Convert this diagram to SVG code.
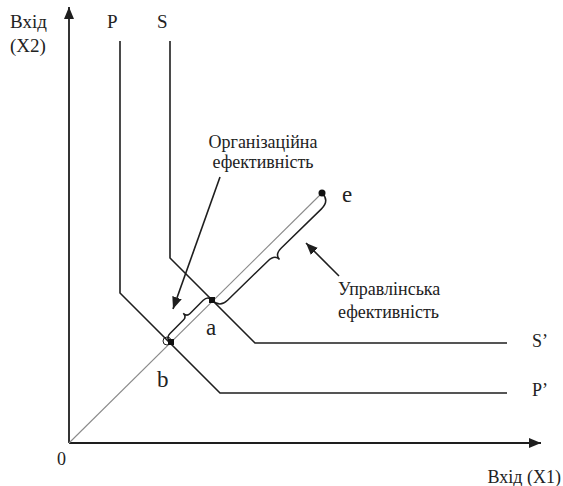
<svg xmlns="http://www.w3.org/2000/svg" width="563" height="486" viewBox="0 0 563 486">
<style>
text{font-family:"Liberation Serif","DejaVu Serif",serif;fill:#222}
.t{font-size:18px}
.big{font-size:23px}
.ln{fill:none;stroke:#1e1e1e;stroke-width:1.6}
.ray{fill:none;stroke:#8a8a8a;stroke-width:1.1}
.br{fill:none;stroke:#1e1e1e;stroke-width:1.5}
</style>
<defs>
<marker id="ah" viewBox="0 0 12 10" refX="12" refY="5" markerWidth="12" markerHeight="10" markerUnits="userSpaceOnUse" orient="auto">
<path d="M0,0 L12,5 L0,10 z" fill="#1e1e1e"/>
</marker>
</defs>
<rect width="563" height="486" fill="#fff"/>
<g font-family="Liberation Serif, DejaVu Serif, serif">
<g id="axes">
<line class="ln" x1="69" y1="443" x2="69" y2="7" marker-end="url(#ah)" style="stroke-width:1.8"/>
<line class="ln" x1="69" y1="443" x2="541" y2="443" marker-end="url(#ah)" style="stroke-width:1.8"/>
<text class="t" x="10" y="28" style="font-size:19px">Вхід</text>
<text class="t" x="10" y="52" style="font-size:19px">(X2)</text>
<text class="t" x="57" y="465">0</text>
<text class="t" x="561" y="483" text-anchor="end">Вхід (X1)</text>
</g>
<g id="ray">
<line class="ray" x1="69" y1="443" x2="322" y2="193"/>
</g>
<g id="curveP">
<path class="ln" d="M120,41 V293 L220,393 H507"/>
<text class="t" x="107" y="28" style="font-size:19px">P</text>
<text class="t" x="532" y="396">P’</text>
</g>
<g id="curveS">
<path class="ln" d="M170,41 V258 L255,343 H507"/>
<text class="t" x="157" y="28" style="font-size:19px">S</text>
<text class="t" x="532" y="347">S’</text>
</g>
<g id="braces">
<path class="br" transform="translate(212,300) rotate(-44.2)" d="M0,0 C0,8 4,11 11,11 L67,11 C73,11 76.7,13 76.7,18 C76.7,13 80,11 86,11 L142,11 C149,11 153.5,8 153.5,0"/>
<path class="br" transform="translate(170,342) rotate(-45)" d="M0,0 C0,-4 2,-6 6,-6 L25,-6 C28,-6 29.7,-8 29.7,-11 C29.7,-8 31,-6 34,-6 L53,-6 C57,-6 59.4,-4 59.4,0"/>
<circle cx="167" cy="341" r="4" fill="none" stroke="#1e1e1e" stroke-width="1"/>
</g>
<g id="point-a">
<rect x="209" y="297" width="6" height="6" fill="#111"/>
<text class="big" x="206" y="335">a</text>
</g>
<g id="point-b">
<rect x="168" y="339" width="6" height="6" fill="#111"/>
<text class="big" x="157" y="387">b</text>
</g>
<g id="point-e">
<circle cx="322" cy="193" r="3.5" fill="#111"/>
<text class="big" x="342" y="202">e</text>
</g>
<g id="label-org">
<text class="t" x="263" y="148" text-anchor="middle">Організаційна</text>
<text class="t" x="263" y="168" text-anchor="middle">ефективність</text>
</g>
<g id="label-man">
<text class="t" x="338" y="295">Управлінська</text>
<text class="t" x="338" y="318">ефективність</text>
</g>
<g id="connectors">
<line class="ln" x1="220" y1="177" x2="173" y2="309" marker-end="url(#ah)"/>
<line class="ln" x1="339" y1="276" x2="306" y2="243" marker-end="url(#ah)"/>
</g>
</g>
</svg>
